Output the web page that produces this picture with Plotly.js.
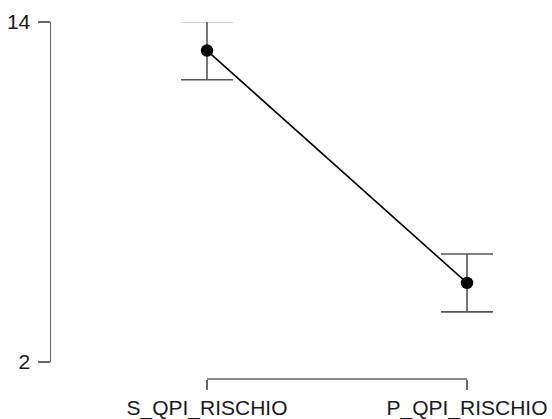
<!DOCTYPE html>
<html>
<head>
<meta charset="utf-8">
<script src="https://cdn.plot.ly/plotly-3.0.1.min.js"></script>
<style>html,body{margin:0;padding:0;background:#fff;}#chart{width:552px;height:419px;}</style>
</head>
<body>
<div id="chart"></div>
<script>
const categories = ["S_QPI_RISCHIO", "P_QPI_RISCHIO"];
const means = [12.99, 4.79];
const errors = [1.03, 1.02];
const yTicks = [2, 14];

const axisColor = "#666666";
const textFont = {family: "Liberation Sans, Arial, sans-serif", size: 21, color: "#1a1a1a"};

const trace = {
  type: "scatter",
  mode: "lines+markers",
  x: categories,
  y: means,
  line: {color: "#000000", width: 1.6},
  marker: {color: "#000000", size: 12.5},
  error_y: {type: "data", array: errors, visible: true, color: "#555555", thickness: 1.6, width: 26},
  cliponaxis: false,
  hoverinfo: "none"
};

const layout = {
  width: 552, height: 419,
  margin: {l: 51, r: 20, t: 22, b: 40},
  paper_bgcolor: "#ffffff", plot_bgcolor: "#ffffff",
  showlegend: false,
  font: textFont,
  xaxis: {
    type: "category",
    range: [-0.6, 1.25],
    anchor: "free", position: 0,
    showline: false, showgrid: false, zeroline: false,
    ticks: "outside", ticklen: 10, tickwidth: 1.5, tickcolor: axisColor,
    tickfont: textFont
  },
  yaxis: {
    domain: [17/357, 1],
    range: [yTicks[0], yTicks[yTicks.length-1]],
    tickvals: yTicks, ticktext: yTicks.map(String),
    showline: true, linecolor: axisColor, linewidth: 1.5,
    showgrid: false, zeroline: false,
    ticks: "outside", ticklen: 12, tickwidth: 1.5, tickcolor: axisColor,
    ticklabelstandoff: 3,
    tickfont: textFont
  },
  shapes: [{
    type: "line", xref: "x", yref: "paper",
    x0: 0, x1: categories.length - 1, y0: 0, y1: 0,
    line: {color: axisColor, width: 1.5}
  }]
};

Plotly.newPlot("chart", [trace], layout, {staticPlot: true, displayModeBar: false});
</script>
</body>
</html>
